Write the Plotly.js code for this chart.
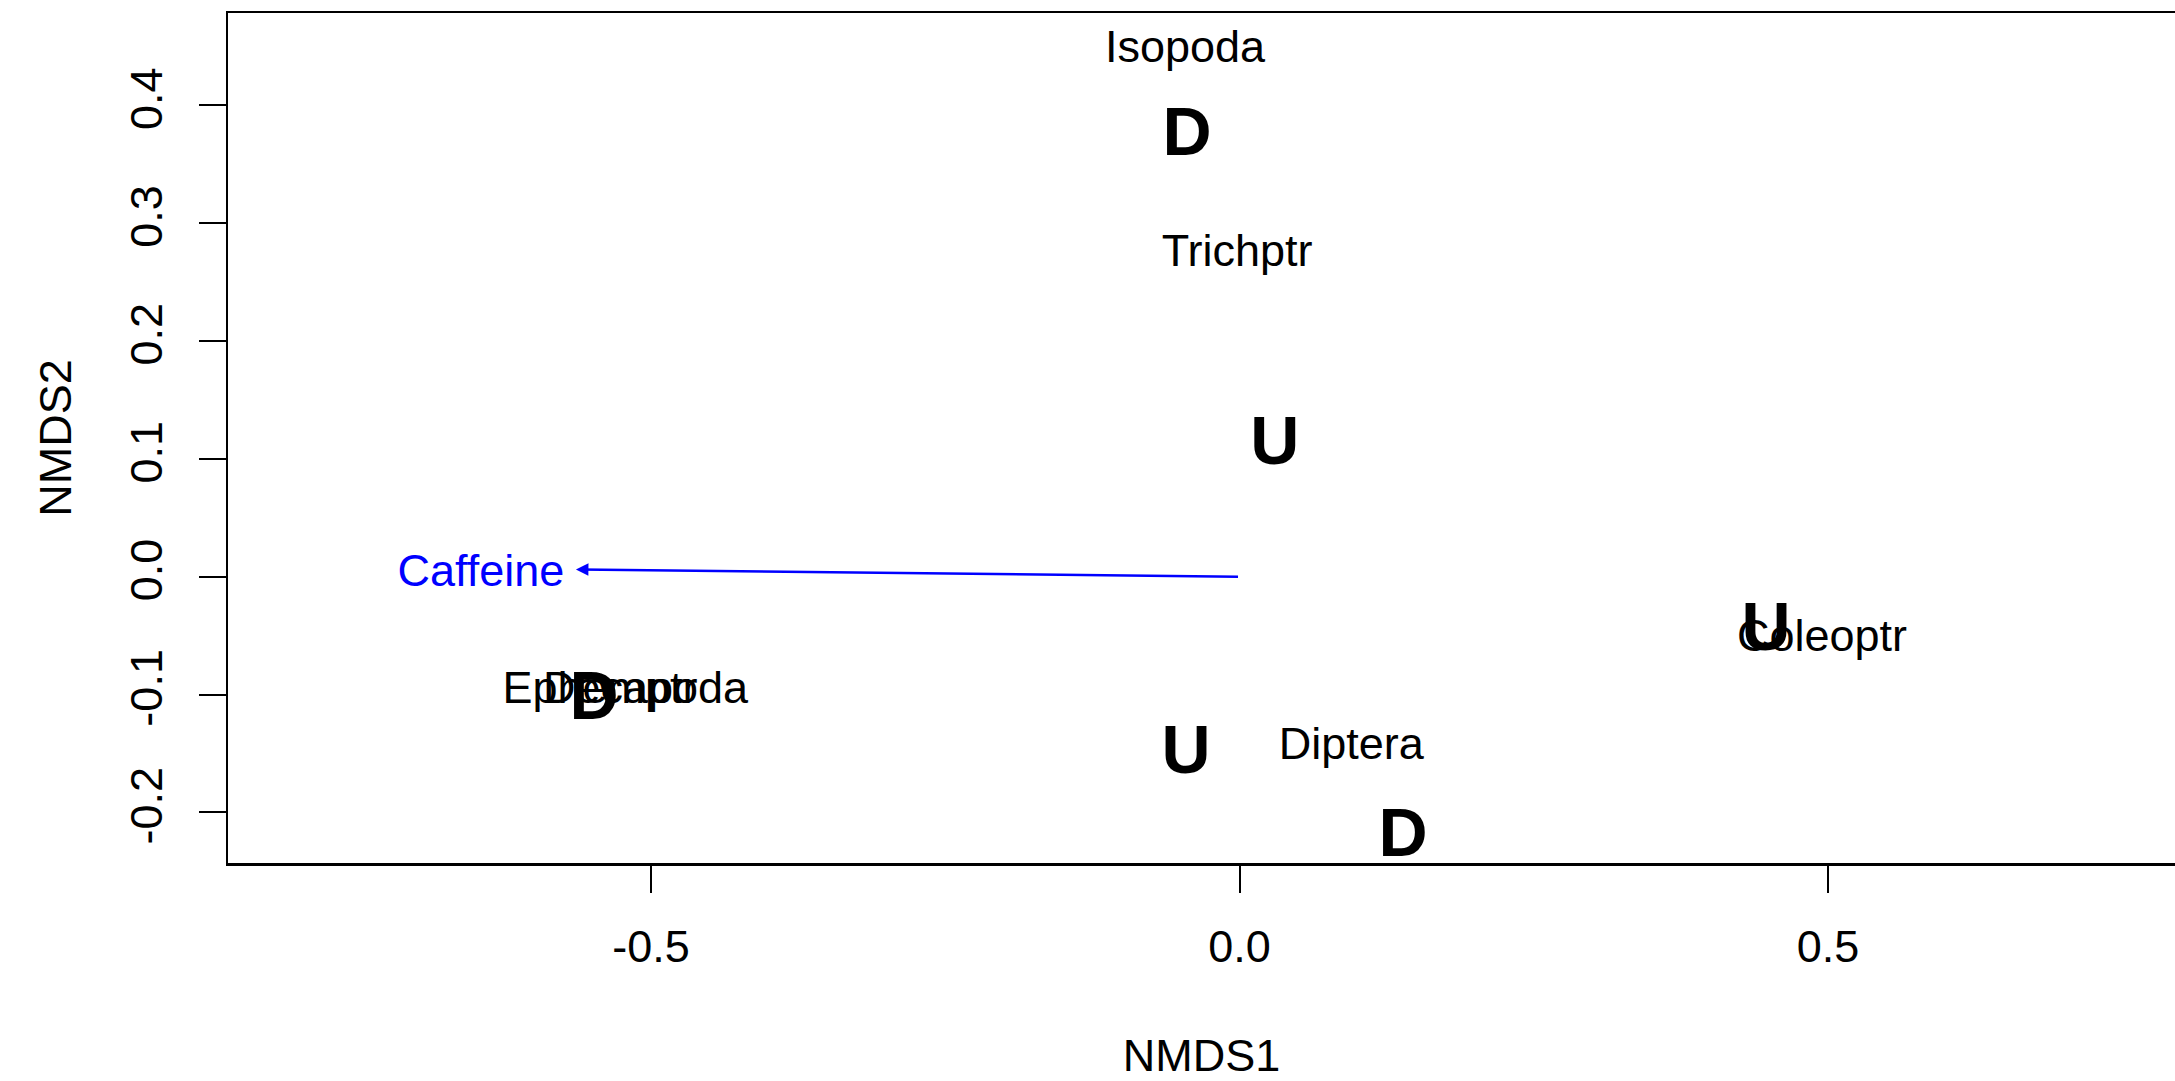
<!DOCTYPE html>
<html>
<head>
<meta charset="utf-8">
<script src="https://cdn.plot.ly/plotly-3.0.1.min.js"></script>
<style>
  html, body { margin: 0; padding: 0; background: #ffffff; }
  #chart { width: 2175px; height: 1081px; }
</style>
</head>
<body>
<div id="chart"></div>
<script>
// Site scores (labelled by group letter)
var siteLabels = ["D", "U", "U", "D", "U", "D"];
var siteX = [-0.0446, 0.0299, 0.4473, -0.5484, -0.0455, 0.1390];
var siteY = [0.3720, 0.1105, -0.0478, -0.1063, -0.1520, -0.2225];

// Species scores
var speciesNames = ["Isopoda", "Trichptr", "Coleoptr", "Ephemptr", "Decapoda", "Diptera"];
var speciesX = [-0.0463, -0.0021, 0.4949, -0.5433, -0.5047, 0.0950];
var speciesY = [0.4468, 0.2736, -0.0531, -0.0978, -0.0978, -0.1455];

// Environmental vector
var vectorName = "Caffeine";
var vectorX = [-0.5638];
var vectorY = [0.0062];
var vectorLabelX = [-0.6445];
var vectorLabelY = [0.0014];

// Axes
var xTickVals = [-0.5, 0.0, 0.5];
var xTickText = ["-0.5", "0.0", "0.5"];
var yTickVals = [-0.2, -0.1, 0.0, 0.1, 0.2, 0.3, 0.4];
var yTickText = ["-0.2", "-0.1", "0.0", "0.1", "0.2", "0.3", "0.4"];
var xTitle = "NMDS1";
var yTitle = "NMDS2";

var FONT = "Liberation Sans, Arial, Helvetica, sans-serif";

var traces = [
  {
    type: "scatter",
    mode: "text",
    x: speciesX,
    y: speciesY,
    text: speciesNames,
    textposition: "middle center",
    textfont: { family: FONT, size: 45, color: "#000000" },
    hoverinfo: "skip",
    showlegend: false,
    cliponaxis: false
  },
  {
    type: "scatter",
    mode: "text",
    x: siteX,
    y: siteY,
    text: siteLabels,
    textposition: "middle center",
    textfont: { family: FONT, size: 68, color: "#000000", weight: "bold" },
    hoverinfo: "skip",
    showlegend: false,
    cliponaxis: false
  },
  {
    type: "scatter",
    mode: "text",
    x: vectorLabelX,
    y: vectorLabelY,
    text: [vectorName],
    textposition: "middle center",
    textfont: { family: FONT, size: 45, color: "#0000FF" },
    hoverinfo: "skip",
    showlegend: false
  }
];

var layout = {
  width: 2175,
  height: 1081,
  paper_bgcolor: "#ffffff",
  plot_bgcolor: "#ffffff",
  margin: { l: 228, r: 0, t: 13, b: 218, pad: 0 },
  showlegend: false,
  font: { family: FONT, size: 45, color: "#000000" },
  xaxis: {
    range: [-0.8594, 0.7948],
    showgrid: false,
    zeroline: false,
    showline: true,
    mirror: true,
    linecolor: "#000000",
    linewidth: 2.5,
    ticks: "outside",
    ticklen: 27,
    tickwidth: 2,
    tickcolor: "#000000",
    tickmode: "array",
    tickvals: xTickVals,
    ticktext: xTickText,
    ticklabelstandoff: 15,
    tickfont: { family: FONT, size: 45, color: "#000000" },
    title: { text: xTitle, font: { family: FONT, size: 45, color: "#000000" }, standoff: 82 },
    fixedrange: true
  },
  yaxis: {
    range: [-0.2429, 0.4784],
    showgrid: false,
    zeroline: false,
    showline: true,
    mirror: false,
    linecolor: "#000000",
    linewidth: 2.5,
    ticks: "outside",
    ticklen: 27,
    tickwidth: 2,
    tickcolor: "#000000",
    tickmode: "array",
    tickvals: yTickVals,
    ticktext: yTickText,
    tickangle: -90,
    ticklabelstandoff: 19,
    tickfont: { family: FONT, size: 45, color: "#000000" },
    title: { text: yTitle, font: { family: FONT, size: 45, color: "#000000" }, standoff: 35 },
    fixedrange: true
  },
  annotations: [
    {
      x: vectorX[0],
      y: vectorY[0],
      xref: "x",
      yref: "y",
      ax: 0,
      ay: 0,
      axref: "x",
      ayref: "y",
      text: "",
      showarrow: true,
      arrowhead: 2,
      arrowsize: 1,
      arrowwidth: 2.5,
      arrowcolor: "#0000FF"
    }
  ]
};

Plotly.newPlot("chart", traces, layout, { displayModeBar: false, staticPlot: true });
</script>
</body>
</html>
